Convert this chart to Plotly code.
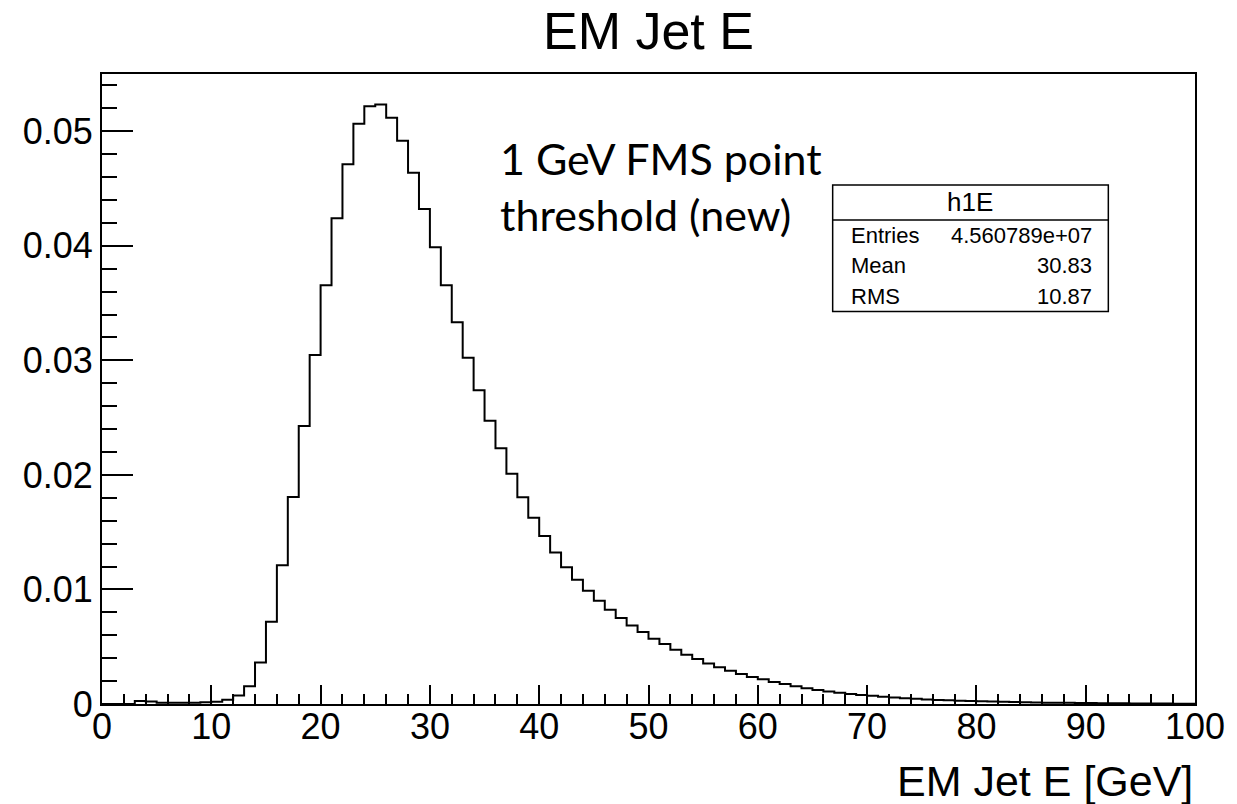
import plotly.graph_objects as go

# ---- data ----
bin_edges = list(range(0, 101))  # 100 bins of 1 GeV, 0..100
bin_values = [
    0.0, 0.0, 0.0, 0.00027, 0.00022, 0.00012, 0.00011, 0.00011, 0.00012, 0.00015,
    0.00020, 0.00037, 0.00075, 0.00154, 0.00363, 0.00718, 0.01212, 0.01808, 0.02427, 0.03046,
    0.03656, 0.04240, 0.04713, 0.05065, 0.05219, 0.05233, 0.05117, 0.04917, 0.04638, 0.04321,
    0.03987, 0.03656, 0.03332, 0.03022, 0.02740, 0.02473, 0.02232, 0.02011, 0.01805, 0.01627,
    0.01467, 0.01322, 0.01194, 0.01084, 0.00988, 0.00901, 0.00822, 0.00750, 0.00686, 0.00628,
    0.00570, 0.00523, 0.00474, 0.00430, 0.00392, 0.00354, 0.00320, 0.00290, 0.00261, 0.00235,
    0.00215, 0.00192, 0.00174, 0.00155, 0.00137, 0.00122, 0.00109, 0.00098, 0.00088, 0.00079,
    0.00071, 0.00063, 0.00056, 0.00050, 0.00045, 0.00040, 0.00036, 0.00032, 0.00029, 0.00026,
    0.00023, 0.00021, 0.00019, 0.00017, 0.00015, 0.00013, 0.00012, 0.00011, 0.00010, 0.00009,
    0.00008, 0.00007, 0.00007, 0.00006, 0.00005, 0.00005, 0.00004, 0.00004, 0.00003, 0.00003,
]
title_text = "EM Jet E"
x_title = "EM Jet E [GeV]"
note_lines = ["1 GeV FMS point", "threshold (new)"]
stats_name = "h1E"
stats_labels = ["Entries", "Mean", "RMS"]
stats_values = ["4.560789e+07", "30.83", "10.87"]

FONT = "Liberation Sans, Arial, Helvetica, sans-serif"

fig = go.Figure()
fig.add_trace(go.Scatter(
    x=bin_edges,
    y=bin_values + [bin_values[-1]],
    mode="lines",
    line=dict(shape="hv", color="black", width=2),
    hoverinfo="skip",
    showlegend=False,
))

fig.update_layout(
    width=1237, height=804,
    margin=dict(l=102, r=38, t=74, b=100),
    paper_bgcolor="white", plot_bgcolor="white",
    font=dict(family=FONT, color="black"),
    showlegend=False,
)

fig.update_xaxes(
    range=[0, 100], showgrid=False, zeroline=False,
    showline=True, linecolor="black", linewidth=2, mirror=True,
    ticks="inside", ticklen=19, tickwidth=1.5, tickcolor="black",
    tick0=0, dtick=10, ticklabelstandoff=-10,
    minor=dict(ticks="inside", ticklen=10, tickwidth=1.5, tickcolor="black", dtick=2),
    tickfont=dict(size=36, family=FONT, color="black"),
)
fig.update_yaxes(
    range=[0, 0.055], showgrid=False, zeroline=False,
    showline=True, linecolor="black", linewidth=2, mirror=True,
    ticks="inside", ticklen=31, tickwidth=1.5, tickcolor="black",
    tick0=0, dtick=0.01,
    minor=dict(ticks="inside", ticklen=15, tickwidth=1.5, tickcolor="black", dtick=0.002),
    tickfont=dict(size=36, family=FONT, color="black"),
)

# title
fig.add_annotation(
    text=title_text, xref="paper", yref="paper", x=0.5, y=1.069,
    xanchor="center", yanchor="middle", showarrow=False,
    font=dict(size=52, family=FONT, color="black"),
)
# x-axis title, right aligned
fig.add_annotation(
    text=x_title, xref="paper", yref="paper", x=1.0, y=-0.122,
    xanchor="right", yanchor="middle", showarrow=False,
    font=dict(size=43, family=FONT, color="black"),
)
# note text
fig.add_annotation(
    text="<br>".join(note_lines), xref="paper", yref="paper", x=0.362, y=0.822,
    xanchor="left", yanchor="middle", align="left", showarrow=False,
    font=dict(size=43, family="Lato, Carlito, sans-serif", color="black"),
)

# stats box
bx0, bx1, by0, by1, bdiv = 0.6685, 0.9207, 0.6229, 0.8239, 0.7684
fig.add_shape(type="rect", xref="paper", yref="paper", x0=bx0, x1=bx1, y0=by0, y1=by1,
              line=dict(color="black", width=1.5), fillcolor="white", layer="above")
fig.add_shape(type="line", xref="paper", yref="paper", x0=bx0, x1=bx1, y0=bdiv, y1=bdiv,
              line=dict(color="black", width=1.5), layer="above")
fig.add_annotation(
    text=stats_name, xref="paper", yref="paper", x=(bx0 + bx1) / 2, y=(by1 + bdiv) / 2,
    xanchor="center", yanchor="middle", showarrow=False,
    font=dict(size=26, family=FONT, color="black"),
)
row_h = (bdiv - by0) / len(stats_labels)
for i, (lab, val) in enumerate(zip(stats_labels, stats_values)):
    yc = bdiv - row_h * (i + 0.5)
    fig.add_annotation(text=lab, xref="paper", yref="paper", x=bx0 + 0.0145, y=yc,
                       xanchor="left", yanchor="middle", showarrow=False,
                       font=dict(size=22, family=FONT, color="black"))
    fig.add_annotation(text=val, xref="paper", yref="paper", x=bx1 - 0.0131, y=yc,
                       xanchor="right", yanchor="middle", showarrow=False,
                       font=dict(size=22, family=FONT, color="black"))

fig.write_html("out.html")
